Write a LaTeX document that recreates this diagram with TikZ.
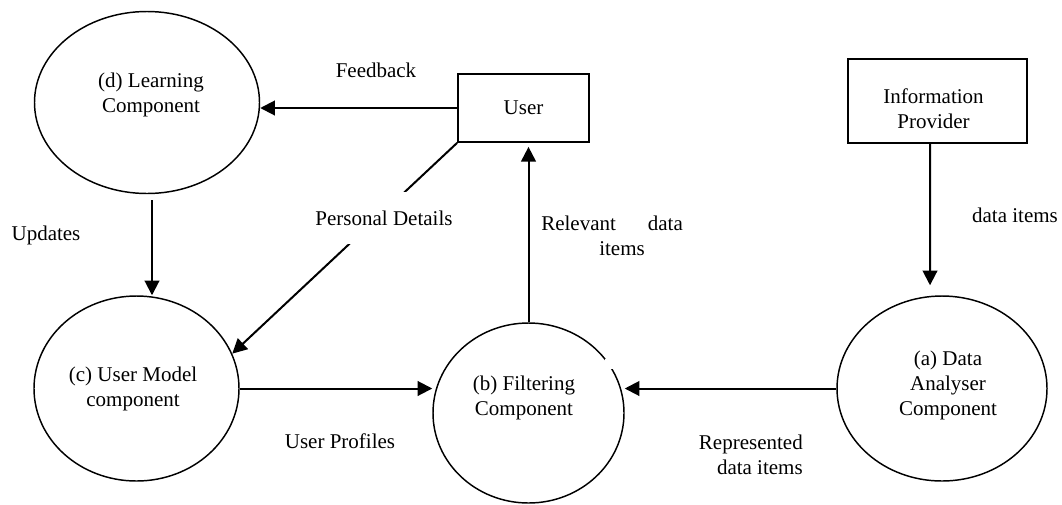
\documentclass[tikz,border=0pt]{standalone}
\usepackage{fontspec}
\setmainfont{Liberation Serif}
\usetikzlibrary{arrows.meta,shapes.geometric}
\begin{document}
\begin{tikzpicture}[x=0.75pt,y=-0.75pt,
  font=\fontsize{15.75pt}{18.75pt}\selectfont,
  proc/.style={draw, ellipse, line width=1.1pt, inner sep=0pt},
  ent/.style={draw, rectangle, line width=1.3pt, inner sep=0pt},
  lbl/.style={inner sep=0pt, align=center},
  arr/.style={line width=1.5pt, -{Triangle[length=11pt,width=11pt]}}]
\useasboundingbox (0,0) rectangle (1062,504);

% processes
\node[proc, minimum width=168.75pt, minimum height=136.5pt,
  label={[lbl,name=dtxt,xshift=3pt,yshift=6pt]center:{(d) Learning\\Component}}] (d) at (147,102.5) {};
\node[proc, minimum width=153.75pt, minimum height=138.75pt,
  label={[lbl,name=ctxt,xshift=-2.6pt]center:{(c) User Model\\component}}] (c) at (136.5,388.5) {};
\node[proc, minimum width=143.25pt, minimum height=135pt,
  label={[lbl,name=btxt,xshift=-3.4pt,yshift=11.25pt]center:{(b) Filtering\\Component}}] (b) at (528.5,413) {};
\node[proc, minimum width=157.5pt, minimum height=138.75pt,
  label={[lbl,name=atxt,xshift=4.5pt,yshift=2.6pt]center:{(a) Data\\Analyser\\Component}}] (a) at (942,388.5) {};

% entities
\node[ent, minimum width=98.25pt, minimum height=51pt] (user) at (523.5,108) {User};
\node[ent, minimum width=134.25pt, minimum height=63pt,
  label={[lbl,name=iptxt,xshift=-3pt,yshift=-5.6pt]center:{Information\\Provider}}] (ip) at (937.5,101) {};

% small gap in the filtering ellipse
\fill[white] (605,359) rectangle (614,369);

% connectors
\draw[arr] (user.west) -- (user.west -| d.east);
\draw[arr] (user.south west) -- (c.20);
\coordinate (upd) at ([xshift=3.75pt,yshift=-4.5pt]d.south);
\draw[arr] (upd) -- (upd |- c.north);
\draw[arr, shorten >=3pt] (b.north) -- (b.north |- user.south);
\draw[arr] (c.east) -- (c.east -| b.west);
\draw[arr] (a.west) -- (a.west -| b.east);
\coordinate (dtop) at ([xshift=-9pt,yshift=7.5pt]a.north);
\draw[arr] ([xshift=-5.6pt]ip.south) -- (dtop);

% connector labels
\node[lbl, fill=white, minimum width=103.5pt, minimum height=39pt] (pd) at (384,218) {Personal Details};
\node[lbl] (fb) at (376,70) {Feedback};
\node[lbl] (up) at (46,235) {Updates};
\node[lbl, align=left, anchor=west] (rel) at (541,235.5) {Relevant\hspace{24pt}data\\\hspace*{43.5pt}items};
\node[lbl] (upf) at (340,441) {User Profiles};
\node[lbl, align=right, anchor=east] (rep) at (803,455) {Represented\\data items};
\node[lbl] (di) at (1015,215) {data items};
\end{tikzpicture}
\end{document}
